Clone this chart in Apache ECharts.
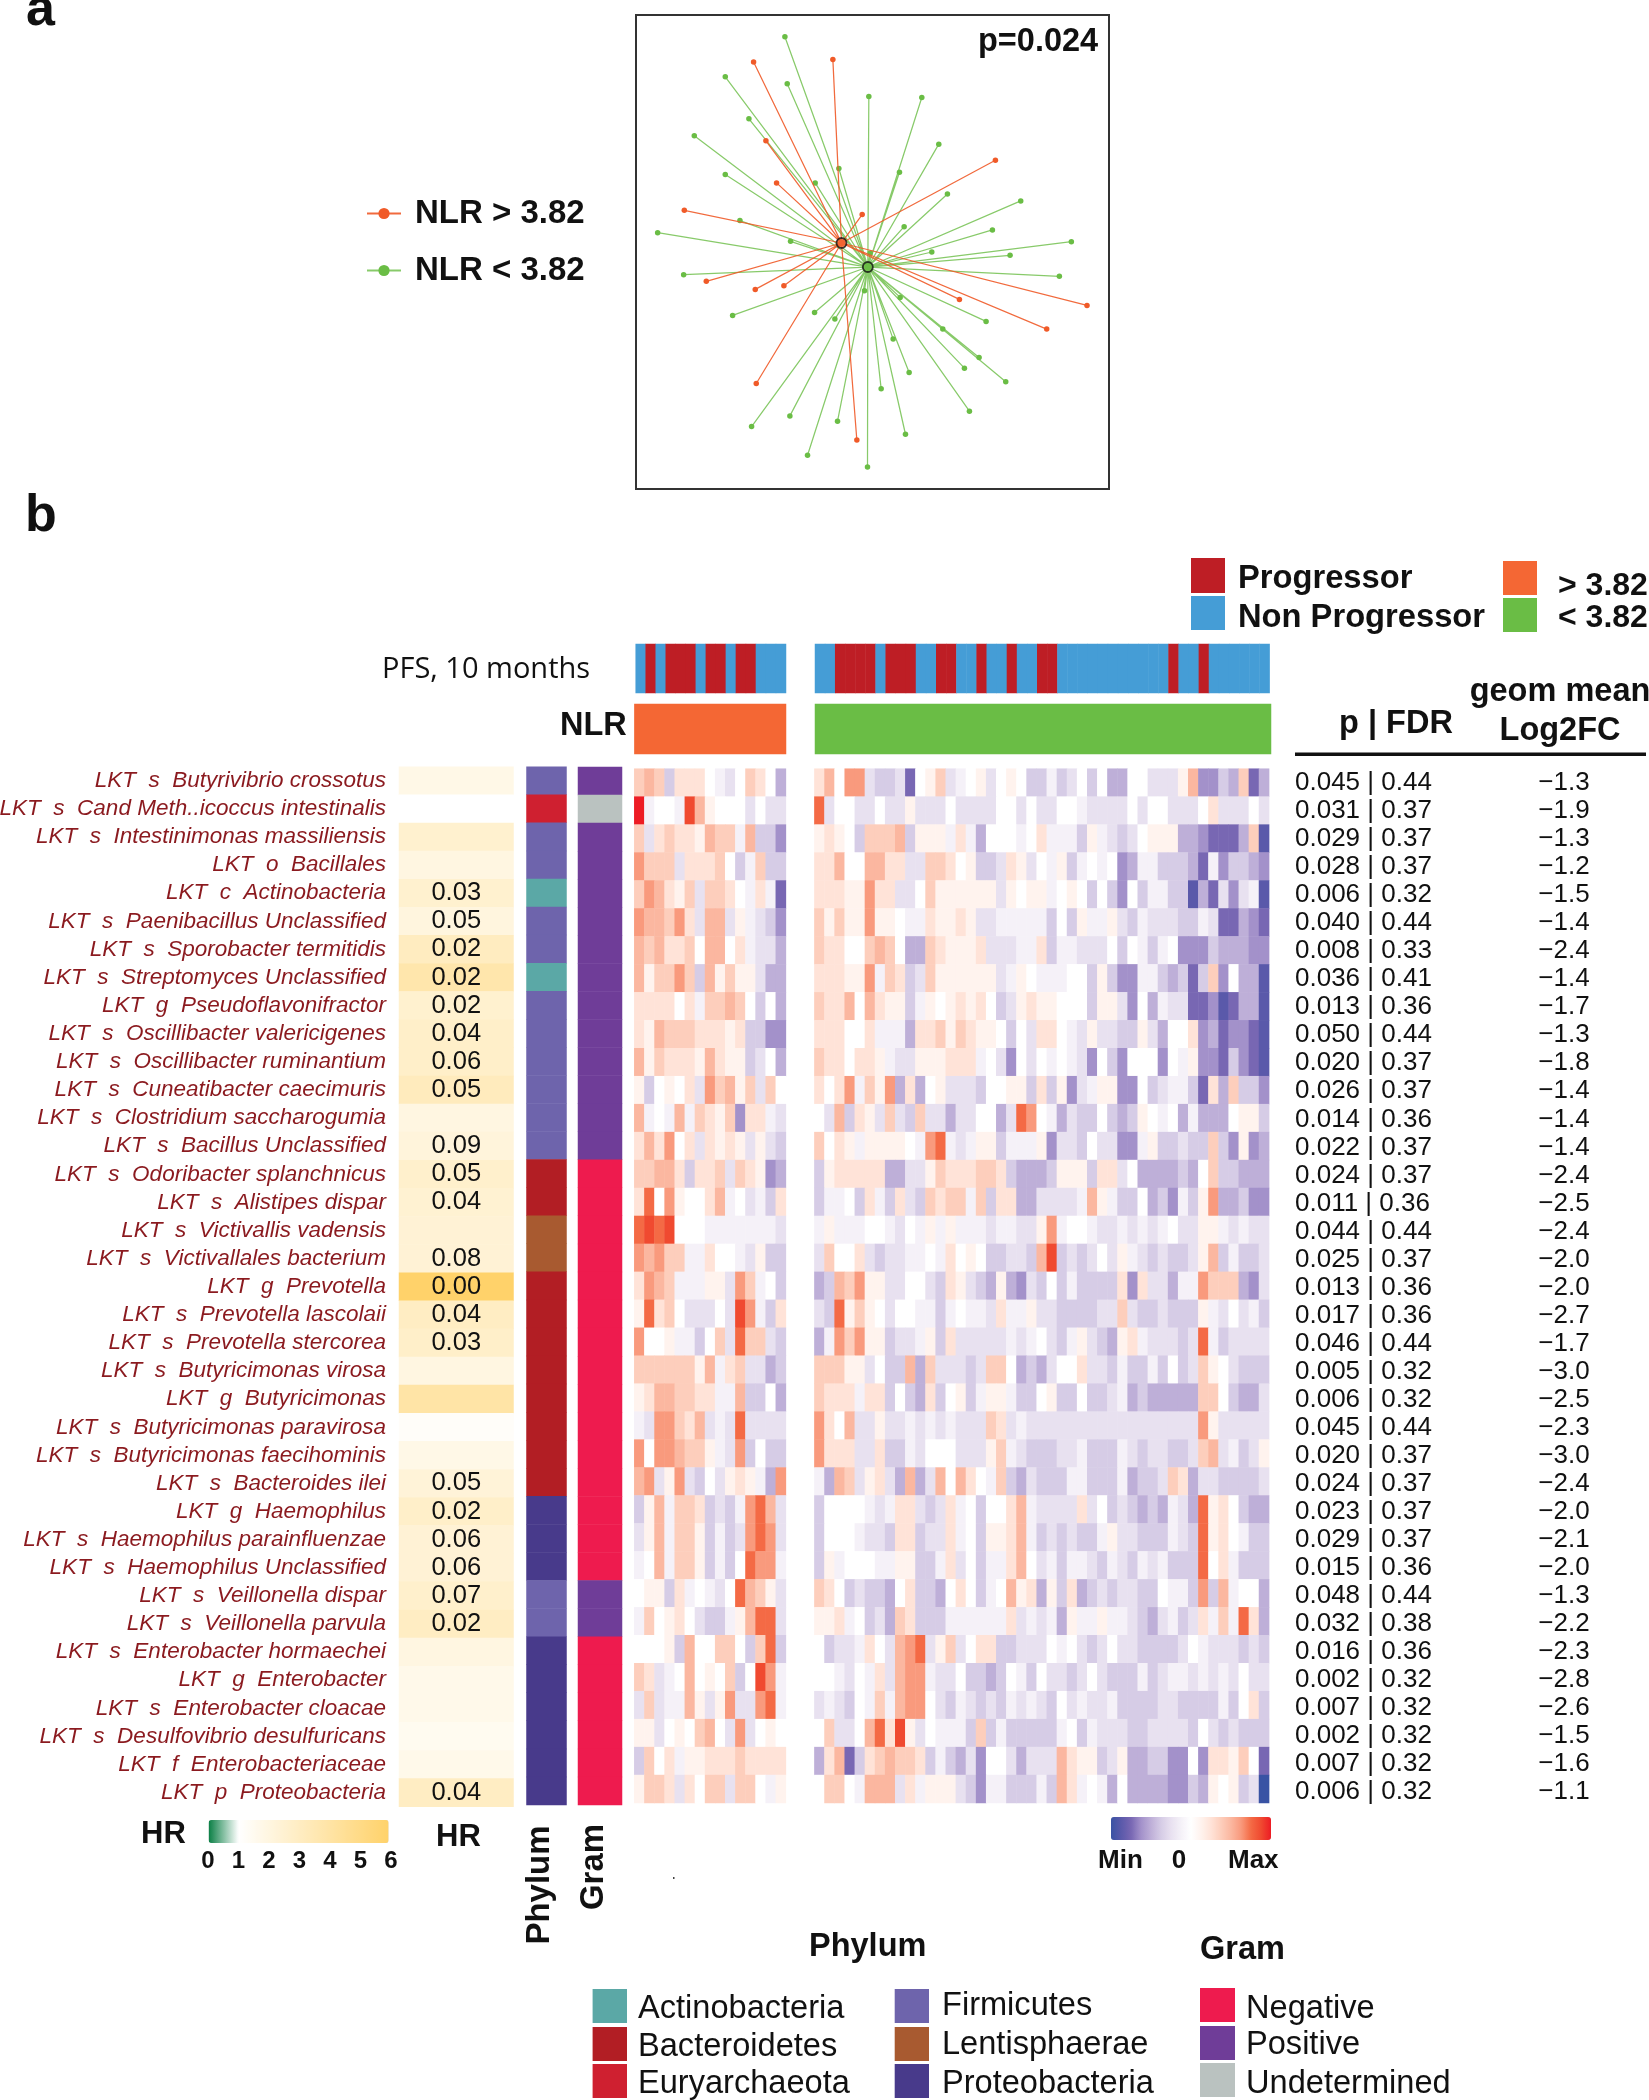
<!DOCTYPE html>
<html><head><meta charset="utf-8">
<style>html,body{margin:0;padding:0;background:#fff}#c{width:1649px;height:2100px}</style>
<script src="https://cdn.jsdelivr.net/npm/echarts@6/dist/echarts.min.js"></script>
</head><body><div id="c"></div>
<script>
// ---------- panel a: ordination rays (units: arbitrary ordination axes 0..142) ----------
const centroidLow = [69.6, 66.5];
const centroidHigh = [61.7, 73.7];
const pointsLow = [[44.7,135.5],[26.8,123.5],[45.4,121.4],[33.9,110.9],[17.5,105.8],[26.8,94.2],[53.8,91.7],[60.9,96],[69.9,117.6],[85.8,117.3],[79.1,94.9],[90.9,103.3],[93.5,88.4],[80.5,78.6],[115.5,86.3],[107,77.6],[88.8,71],[130.7,74.1],[112.3,70],[127.1,63.7],[105.1,50.2],[79.3,57.4],[92.1,47.9],[103,39.4],[111,32.1],[98.6,36.2],[100.1,23.3],[82,34.9],[77.2,44.9],[73.6,30],[80.9,16.4],[69.5,6.6],[68.6,59.4],[60.5,20.3],[51.5,10.1],[46.2,21.9],[34.7,18.7],[59.7,50.9],[53.6,52.9],[29,52],[14.3,64.2],[6.5,76.8],[31.2,80.4],[46.4,74.2],[70.3,70.7]];
const pointsHigh = [[35.3,127.9],[59.1,128.7],[39,104.3],[42.2,91.7],[14.5,83.5],[67.9,82.2],[107.9,98.5],[97.1,56.8],[123.3,47.9],[135.4,55],[66.3,14.7],[36.1,31.6],[21.1,62.2],[35.8,59.8],[44.4,60.9]];
const pValue = 'p=0.024';

// ---------- panel b: rows ----------
const rowLabels = ['LKT  s  Butyrivibrio crossotus','LKT  s  Cand Meth..icoccus intestinalis','LKT  s  Intestinimonas massiliensis','LKT  o  Bacillales','LKT  c  Actinobacteria','LKT  s  Paenibacillus Unclassified','LKT  s  Sporobacter termitidis','LKT  s  Streptomyces Unclassified','LKT  g  Pseudoflavonifractor','LKT  s  Oscillibacter valericigenes','LKT  s  Oscillibacter ruminantium','LKT  s  Cuneatibacter caecimuris','LKT  s  Clostridium saccharogumia','LKT  s  Bacillus Unclassified','LKT  s  Odoribacter splanchnicus','LKT  s  Alistipes dispar','LKT  s  Victivallis vadensis','LKT  s  Victivallales bacterium','LKT  g  Prevotella','LKT  s  Prevotella lascolaii','LKT  s  Prevotella stercorea','LKT  s  Butyricimonas virosa','LKT  g  Butyricimonas','LKT  s  Butyricimonas paravirosa','LKT  s  Butyricimonas faecihominis','LKT  s  Bacteroides ilei','LKT  g  Haemophilus','LKT  s  Haemophilus parainfluenzae','LKT  s  Haemophilus Unclassified','LKT  s  Veillonella dispar','LKT  s  Veillonella parvula','LKT  s  Enterobacter hormaechei','LKT  g  Enterobacter','LKT  s  Enterobacter cloacae','LKT  s  Desulfovibrio desulfuricans','LKT  f  Enterobacteriaceae','LKT  p  Proteobacteria'];
const hrValues = [1.8,1,2.6,2,2.6,2.1,3.1,3.8,2.6,2.8,2.8,3.2,2,2.2,2.7,2.5,2.4,2.4,6,3,2.8,2,4,1.2,1.8,2.3,2.8,2.4,2.4,2.7,3,2,1.7,1.7,1.5,1.7,3];
const hrP = ['','','','','0.03','0.05','0.02','0.02','0.02','0.04','0.06','0.05','','0.09','0.05','0.04','','0.08','0.00','0.04','0.03','','','','','0.05','0.02','0.06','0.06','0.07','0.02','','','','','','0.04'];
const phylumNames = ['Actinobacteria','Bacteroidetes','Euryarchaeota','Firmicutes','Lentisphaerae','Proteobacteria'];
const phylumColors = ['#5BA8A6','#B21E24','#CF2030','#6E64AC','#A85A30','#483A8B'];
const phylumByRow = [3,2,3,3,0,3,3,0,3,3,3,3,3,3,1,1,4,4,1,1,1,1,1,1,1,1,5,5,5,3,3,5,5,5,5,5,5];
const gramNames = ['Negative','Positive','Undetermined'];
const gramColors = ['#EE1B4E','#6F3D98','#BAC2C0'];
const gramByRow = [1,2,1,1,1,1,1,1,1,1,1,1,1,1,0,0,0,0,0,0,0,0,0,0,0,0,0,0,0,1,1,0,0,0,0,0,0];
const pFdr = ['0.045 | 0.44','0.031 | 0.37','0.029 | 0.37','0.028 | 0.37','0.006 | 0.32','0.040 | 0.44','0.008 | 0.33','0.036 | 0.41','0.013 | 0.36','0.050 | 0.44','0.020 | 0.37','0.026 | 0.37','0.014 | 0.36','0.022 | 0.37','0.024 | 0.37','0.011 | 0.36','0.044 | 0.44','0.025 | 0.37','0.013 | 0.36','0.017 | 0.36','0.046 | 0.44','0.005 | 0.32','0.006 | 0.32','0.045 | 0.44','0.020 | 0.37','0.024 | 0.37','0.023 | 0.37','0.029 | 0.37','0.015 | 0.36','0.048 | 0.44','0.032 | 0.38','0.016 | 0.36','0.002 | 0.32','0.007 | 0.32','0.002 | 0.32','0.007 | 0.32','0.006 | 0.32'];
const log2fc = ['−1.3','−1.9','−1.3','−1.2','−1.5','−1.4','−2.4','−1.4','−1.7','−1.3','−1.8','−1.4','−1.4','−1.4','−2.4','−2.5','−2.4','−2.0','−2.0','−2.7','−1.7','−3.0','−2.5','−2.3','−3.0','−2.4','−2.0','−2.1','−2.0','−1.3','−2.2','−2.3','−2.8','−2.6','−1.5','−1.6','−1.1'];
// 0 = Non Progressor, 1 = Progressor
const pfsLeft = [0,1,0,1,1,1,0,1,1,0,1,1,0,0,0];
const pfsRight = [0,0,1,1,1,1,0,1,1,1,0,0,1,1,0,0,1,0,0,1,0,0,1,1,0,0,0,0,0,0,0,0,0,0,0,1,0,0,1,0,0,0,0,0,0];
const pfsNames = ['Non Progressor','Progressor'];
const pfsColors = ['#459DD6','#BE1E25'];
const nlrColors = ['#F46734','#6ABD45'];
const nlrNames = ['> 3.82','< 3.82'];
const hrTicks = [0,1,2,3,4,5,6];

// expression levels on a -8..8 colour scale
const heatLeft = [
[3,4,3,-3,2,2,2,0,-1,-2,0,3,2,0,-4],
[8,-1,0,0,-1,7,4,1,0,0,0,-2,0,-2,-2],
[3,-2,2,3,2,2,1,4,3,3,-1,4,-3,-3,-5],
[5,3,3,3,-2,2,2,2,3,0,-3,-1,3,-3,-3],
[3,5,4,2,1,3,-2,3,3,2,0,-1,2,-1,-6],
[5,4,4,3,5,2,-2,4,4,-2,1,-1,-2,-3,-5],
[4,3,4,2,2,3,0,4,4,0,2,-1,-2,-2,-4],
[4,1,3,3,5,3,-3,4,1,3,1,1,-2,-4,-4],
[2,2,2,2,0,2,-1,3,3,4,3,0,-3,0,-4],
[2,1,4,3,3,3,2,2,2,1,2,-3,-3,-5,-5],
[4,1,3,2,2,2,1,4,2,1,1,-3,-2,0,-4],
[1,-3,0,1,0,2,-2,5,3,4,1,3,-2,3,0],
[4,-1,0,-1,4,-1,3,2,1,3,-5,2,2,-1,-2],
[2,4,2,5,0,2,-2,2,1,2,1,-2,1,-2,-3],
[3,3,4,4,2,-3,2,2,3,-2,3,2,1,-5,-4],
[2,6,0,5,1,0,0,2,4,-1,0,-2,-1,-3,2],
[6,7,6,7,0,0,0,-1,-1,-1,-1,-1,-1,-1,-2],
[5,4,5,3,3,-1,-1,2,0,0,-1,-2,1,-3,-3],
[2,5,4,3,-1,-1,-1,1,1,-2,5,3,-1,0,-3],
[1,6,2,3,0,-2,-2,-2,0,-2,7,5,-1,-3,2],
[5,0,0,1,-1,-1,-3,0,3,-2,6,3,3,-2,-3],
[3,3,3,3,3,3,1,4,-1,2,3,-2,-2,-4,-3],
[1,2,4,4,3,3,2,2,-1,-1,4,-3,-3,0,-4],
[-1,-2,5,5,3,2,4,-2,-1,-2,6,-2,-2,-2,-2],
[5,0,5,5,4,3,3,1,-1,-2,5,-3,0,-3,-3],
[4,5,-2,1,5,-2,-3,0,-2,1,2,1,-1,-4,5],
[-3,1,4,-1,3,3,2,-3,-2,-3,-1,5,6,4,-2],
[-2,1,4,-1,3,3,1,-3,-1,-3,-2,5,6,5,-2],
[-1,0,4,-1,3,3,1,-3,-1,-3,0,6,5,5,-1],
[0,1,1,-3,2,-1,0,-1,-2,0,6,4,3,1,-2],
[-1,3,0,1,2,0,-2,-3,-3,-1,1,4,6,6,-2],
[0,0,0,1,-3,4,0,0,3,3,0,-3,3,6,-3],
[3,2,-2,-1,0,4,0,1,0,3,-3,0,7,5,-1],
[-2,3,-2,-1,-1,4,1,-2,1,5,-2,-2,5,6,-1],
[1,1,-2,0,1,0,3,4,0,-2,5,-2,0,1,0],
[-3,3,0,2,-1,1,1,2,2,2,3,2,2,2,2],
[1,3,3,2,-2,2,0,3,3,-2,3,3,0,-1,1]
];
const heatRight = [
[2,4,0,5,5,-2,-3,-3,-2,-6,0,1,3,-2,-1,0,1,-2,0,1,0,-3,-3,-1,-3,-2,0,-3,0,-4,-4,0,0,-2,-2,-2,1,4,-5,-5,-3,-4,3,-6,-4],
[6,-2,0,0,-2,-2,0,-2,-2,1,-2,-2,-2,0,-2,-2,-2,-2,0,0,-2,0,-2,-2,0,0,-1,-2,-2,-2,-2,0,-2,0,0,-2,-2,-2,0,2,-2,-2,-2,0,-2],
[1,2,1,0,-3,3,3,3,4,-3,1,1,1,-1,2,-1,-4,0,0,0,-1,0,2,-1,-1,-1,-3,1,-1,-2,-3,-2,0,1,1,1,-4,-4,-5,-6,-6,-6,-4,3,-7],
[2,2,4,0,0,4,4,2,2,-2,-2,3,3,2,0,1,-3,-3,-2,2,1,-2,0,-1,1,-3,-1,0,-1,0,-5,-4,-1,-1,-3,-3,-3,-4,-6,-1,-5,-3,-3,-4,-5],
[2,2,2,1,1,5,2,2,-2,-2,0,3,1,1,1,1,1,1,-2,1,0,1,1,-1,0,1,0,-3,0,-3,-5,0,-3,-1,-1,-3,-3,-7,-4,-6,-2,-5,-2,-1,-7],
[3,1,3,1,1,5,1,1,0,-1,-1,2,1,1,2,1,-2,-2,-1,-1,-1,-1,-1,-3,0,-3,1,-1,-1,1,-2,-3,-1,-2,-2,-2,-3,-3,-1,-2,-6,-6,-4,-5,-6],
[3,2,2,0,0,3,4,3,0,-4,-4,3,2,1,1,1,2,-2,-2,-2,-1,-1,2,-3,-1,-1,-2,-2,-2,0,-3,0,-1,-3,-1,0,-5,-5,-5,-3,-4,-4,-4,-5,-5],
[2,2,2,1,1,5,-1,3,2,-3,-2,3,1,1,1,1,1,1,-2,-1,1,0,-1,-1,-1,0,0,-3,1,-3,-5,-5,-1,-1,-3,-4,-3,-6,-3,3,-5,0,-4,-4,-7],
[3,2,2,4,0,4,2,1,1,-3,-1,1,0,1,2,1,2,0,-3,-2,1,2,1,1,0,0,0,-3,1,1,-2,-5,0,-4,-1,-2,-2,-6,-6,-5,-7,-6,-4,-4,-7],
[2,2,2,0,0,2,-1,-1,-1,-4,2,2,3,1,3,2,1,1,0,-3,0,-2,2,2,0,-1,-2,1,-2,-2,-3,-3,1,-2,-4,0,0,2,-5,-4,-6,-5,-5,-6,-7],
[3,2,2,0,2,2,1,-1,-2,-2,1,1,1,2,2,2,-1,0,-2,-5,0,-2,0,-1,0,-1,-2,-5,0,-3,-5,0,0,0,-5,0,-1,1,-5,-5,-6,-3,-5,-6,-7],
[2,0,2,5,-1,3,1,5,-4,2,-4,0,1,-2,-2,-2,-3,0,0,1,1,-3,2,-3,1,-5,-2,-1,1,1,-5,-5,0,-3,-2,-1,-1,-3,-6,2,-4,3,-3,-3,-5],
[0,-2,4,-3,2,1,-2,3,-2,-3,3,-2,-2,-4,-2,-2,0,0,-4,-2,6,5,0,-1,-4,-2,-3,-3,0,-3,-4,-3,1,0,-1,0,-4,-1,-4,-4,-4,0,1,1,-3],
[3,0,2,1,-1,1,1,1,1,0,-1,5,6,-1,-2,-1,1,1,-3,-1,-1,-1,1,-5,-2,-2,-3,0,-2,-2,-5,-5,-1,1,-3,-3,-2,-3,-3,3,-3,-5,1,-5,-4],
[-3,1,2,2,2,2,2,-4,-4,-2,-2,1,3,2,2,2,3,3,2,-3,-4,-4,-4,-3,1,1,1,-3,2,2,-2,0,-4,-4,-4,-4,-3,-4,0,3,-3,-3,-4,-4,-4],
[-3,-1,-1,0,-3,2,-1,-3,2,-2,-3,3,2,3,3,-1,3,-3,2,2,-4,-4,-2,-2,-2,-2,-1,4,1,-1,-3,-3,0,-4,-3,-5,-1,-3,1,5,-4,-4,-3,-5,-5],
[-1,1,-1,-1,-1,0,0,-1,-2,0,-1,1,-1,1,-1,-1,-1,-2,-1,-1,-2,-2,1,5,-1,0,0,-1,-2,-2,-1,-2,-1,-2,-1,0,-2,-2,1,1,-1,-2,-1,-2,-2],
[-2,3,0,0,2,-2,-3,-2,-2,-1,-1,0,-1,2,0,1,0,-3,-3,-2,-2,-3,4,7,-3,-2,-3,-2,0,-2,1,-1,-2,-3,-2,-3,-3,-2,1,4,-3,-1,-3,-3,-2],
[-4,-3,4,3,5,1,1,-2,-2,0,0,-2,-3,2,1,-2,-3,-4,1,-4,-5,-2,-3,0,-3,-1,-3,-3,-3,-3,2,-5,2,-2,-2,-4,-1,-1,5,3,3,3,-4,-5,-2],
[-2,-3,6,1,3,1,0,-2,0,0,-1,-1,-3,-1,0,-1,-1,-2,2,-1,-1,1,-2,-2,-3,-3,-3,-3,-2,-2,3,-2,-3,-3,-2,-3,-3,-3,1,-1,-2,0,-2,-1,-3],
[-4,-1,5,3,5,1,1,-3,-2,-2,-1,1,-3,2,-2,-2,-2,-2,-2,-1,-2,-1,0,-2,-3,-1,1,-2,-3,-4,1,2,-1,-2,-2,-2,-3,-2,6,-1,-3,-2,-2,-2,-2],
[3,3,3,1,1,-2,0,-3,-3,4,-4,3,-2,-2,-2,-3,-2,3,3,0,-4,-3,-4,-2,0,0,2,-2,-2,-3,-1,-3,-3,-1,-3,0,-3,-2,3,1,0,-2,-3,-3,-3],
[3,2,2,2,-1,2,2,-3,0,-3,-4,2,-3,0,1,-3,-1,1,1,-1,-3,-3,0,1,-3,-3,0,-3,-3,-2,-1,-4,-3,-4,-4,-4,-4,-4,3,3,0,-3,-4,-4,-2],
[5,2,0,4,-2,-2,1,-2,-2,-1,-2,-1,-2,-1,-2,-2,-2,3,2,-2,-1,-2,-2,-2,-2,-2,-2,-2,-2,-2,-2,-2,-2,-2,-2,-2,-2,-2,5,1,-2,-2,-2,-2,-2],
[5,2,2,2,-2,-2,2,-3,-3,-1,-2,0,0,0,-2,-2,-2,1,3,-1,-2,-3,-3,-3,-2,-2,-1,-3,-3,-3,-1,-2,-3,-2,-2,-3,-3,-2,3,4,-2,-1,-3,-2,1],
[-1,-4,4,3,-2,1,2,-2,-4,4,-4,-2,4,0,4,2,0,-1,3,-3,-4,-2,-3,-3,-3,-1,-1,-3,-3,-3,-1,-4,-3,-3,-2,3,2,-4,-2,-2,-3,-3,-3,-3,-2],
[-3,0,0,0,0,-1,-2,-1,2,2,-2,-3,-2,2,-1,0,-3,0,0,2,4,-1,-2,-2,-2,-2,2,-2,0,-3,-2,-3,-4,-3,-4,-1,-2,-4,6,1,2,0,-3,-4,-4],
[-3,0,0,0,-1,-2,-2,-3,2,2,-3,-2,-2,2,-1,0,-3,1,1,2,4,-1,-3,-2,-3,-2,-3,-3,-1,1,-2,-2,-3,-3,-3,-1,-2,-3,6,1,2,0,-1,-3,-3],
[-3,1,-1,0,0,0,-1,-1,1,1,-3,-3,-1,2,-2,0,-3,-1,-1,2,4,0,-2,-1,-3,-1,-1,-2,-3,-1,-2,-3,-1,-2,-1,-3,-3,-3,6,0,2,-1,-3,-3,-3],
[3,2,0,-3,-2,-3,-3,-4,0,2,-3,-3,-4,0,2,0,-3,-1,0,4,1,2,-4,1,-3,2,-4,-3,-2,-3,-2,-2,-3,-3,0,-1,-1,-3,5,-3,4,-1,0,0,-4],
[1,1,2,-1,0,-3,-2,-4,3,2,-3,-3,-3,-1,-1,-1,-1,-1,-1,2,-2,-1,-2,-1,-4,1,-1,-1,1,-1,-1,-2,-3,-4,-2,-1,-3,-2,2,-1,3,-1,6,2,-4],
[0,-3,-2,-2,-1,2,0,-2,4,5,6,-2,1,3,-2,0,2,2,-3,-3,-2,-2,-2,0,-1,0,-2,-3,-2,0,-2,-2,-3,-3,-3,-3,-2,0,-1,-2,-2,-2,-3,-2,-3],
[0,0,-1,-2,0,-1,2,-2,4,5,5,-1,-2,-2,0,-3,-3,-4,-3,0,-1,-3,0,-2,-2,-3,-2,0,-2,-3,-3,-3,-1,-3,-2,-1,-1,-2,-1,-2,-1,-2,0,-2,-2],
[-2,-1,-2,-3,0,-1,3,-1,4,5,5,0,-2,-3,-1,-2,-3,-2,-3,-1,-2,-1,-2,-3,0,-2,-1,-2,-2,-1,-3,-3,-3,-3,-2,-2,-3,-3,-3,-3,-1,-3,0,2,-3],
[0,3,-2,-2,0,4,6,2,7,1,-2,0,-1,-1,-1,-3,3,-3,-1,-3,-3,-3,-3,-3,-1,0,-3,-1,-2,-2,-2,-3,-3,-2,-2,-2,-2,-3,0,-2,-3,-2,-3,-3,-3],
[-4,2,4,-6,-3,2,3,4,3,3,2,-3,-1,-3,-4,-2,-5,0,0,-2,-4,-2,-2,-2,4,2,1,1,-3,-2,1,-4,-4,-3,-3,-5,-5,0,-5,2,2,1,3,0,-6],
[0,3,3,0,-1,4,4,4,-2,2,-1,1,1,1,-2,-3,-5,-1,-1,-3,-3,-3,-1,-3,4,2,-1,0,-1,-4,0,-4,-4,-4,-4,-5,-5,-3,-4,1,0,1,-3,-2,-8]
];
const heatColors = ['#3953a4','#5a59aa','#7867b3','#a391ca','#beafd8','#d6cce6','#e8e1f0','#f5f1f8','#ffffff','#fff3ee','#ffe3d8','#fdcebc','#fbb7a0','#f99a7d','#f46a45','#f04a30','#ed1c24'];
const hrColors = ['#0a7f45','#ffffff','#FFF6E1','#FFEDC3','#FFE4A6','#FFDB88','#FFD26A'];

// ---------- helpers ----------
const SANS = '"Liberation Sans", Arial, sans-serif';
const rowIdx = rowLabels.map((_, i) => i);
const grids = [
  {left:636, top:15, width:473, height:474, show:true, borderColor:'#333', borderWidth:2, backgroundColor:'#fff'},
  {left:399, top:766.7, width:114.5, height:1040},
  {left:526.5, top:766.7, width:40, height:1038.3},
  {left:578, top:767, width:44, height:1038},
  {left:634.3, top:768.7, width:151.6, height:1034.3},
  {left:814.4, top:768.7, width:454.7, height:1034.3},
  {left:635.7, top:644, width:150.3, height:49},
  {left:815, top:644, width:454.6, height:49},
  {left:634.4, top:704, width:151.6, height:50},
  {left:815, top:704, width:456, height:50},
  {left:1268, top:769, width:1, height:1037}
].map(o => Object.assign({outerBoundsMode:'none'}, o));
const hiddenX = (g, n) => ({gridIndex:g, type:'category', show:false, data:Array.from({length:n},(_, i)=>i)});
const hiddenY = (g, data) => ({gridIndex:g, type:'category', show:false, inverse:true, data:data});
const xAxes = [
  {gridIndex:0, type:'value', show:false, min:0, max:142},
  hiddenX(1,1), hiddenX(2,1), hiddenX(3,1), hiddenX(4,15), hiddenX(5,45),
  hiddenX(6,15), hiddenX(7,45), hiddenX(8,1), hiddenX(9,1), hiddenX(10,1)
];
const yAxes = [
  {gridIndex:0, type:'value', show:false, min:0, max:142},
  {gridIndex:1, type:'category', inverse:true, data:rowLabels,
   axisLine:{show:false}, axisTick:{show:false},
   axisLabel:{interval:0, margin:13, fontFamily:SANS, fontStyle:'italic', fontSize:22.5, color:'#8B1A1F'}},
  hiddenY(2,rowIdx), hiddenY(3,rowIdx), hiddenY(4,rowIdx), hiddenY(5,rowIdx),
  hiddenY(6,[0]), hiddenY(7,[0]), hiddenY(8,[0]), hiddenY(9,[0]),
  {gridIndex:10, type:'category', inverse:true, position:'right', data:rowLabels,
   axisLine:{show:false}, axisTick:{show:false},
   axisLabel:{interval:0, margin:26, align:'left',
     formatter:(v,i)=>`{p|${pFdr[i]}}{f|${log2fc[i]}}`,
     rich:{p:{width:219, fontFamily:SANS, fontSize:26, color:'#111', align:'left'},
           f:{width:100, fontFamily:SANS, fontSize:26, color:'#111', align:'center'}}}}
];
const rays = (pts, c) => { const d=[]; pts.forEach(p=>{d.push(c,p,['-','-']);}); return d; };
const heatData = m => { const d=[]; m.forEach((r,y)=>r.forEach((v,x)=>d.push([x,y,v]))); return d; };
const cell = {borderWidth:0};
const heatSeries = (g,data,extra) => Object.assign({type:'heatmap', xAxisIndex:g, yAxisIndex:g, data:data, itemStyle:cell, progressive:0, emphasis:{disabled:true}, silent:true}, extra||{});

const series = [
  {name:'NLR < 3.82', type:'line', xAxisIndex:0, yAxisIndex:0, data:rays(pointsLow,centroidLow), connectNulls:false, symbol:'circle', symbolSize:5.5, showSymbol:true, lineStyle:{color:nlrColors[1], width:1.25, opacity:.8}, itemStyle:{color:nlrColors[1]}, silent:true, z:3},
  {name:'NLR > 3.82', type:'line', xAxisIndex:0, yAxisIndex:0, data:rays(pointsHigh,centroidHigh), connectNulls:false, symbol:'circle', symbolSize:5.5, showSymbol:true, lineStyle:{color:'#F05A28', width:1.25, opacity:.9}, itemStyle:{color:'#F05A28'}, silent:true, z:4},
  {type:'scatter', name:'low centroid', xAxisIndex:0, yAxisIndex:0, data:[centroidLow], symbolSize:10, itemStyle:{color:nlrColors[1], borderColor:'#111', borderWidth:1.8}, silent:true, z:6},
  {type:'scatter', name:'high centroid', xAxisIndex:0, yAxisIndex:0, data:[centroidHigh], symbolSize:10, itemStyle:{color:nlrColors[0], borderColor:'#111', borderWidth:1.8}, silent:true, z:6},
  heatSeries(1, hrValues.map((v,i)=>[0,i,v]), {name:'HR', label:{show:true, formatter:p=>hrP[p.dataIndex], fontFamily:SANS, fontSize:25.5, color:'#111'}}),
  heatSeries(2, phylumByRow.map((v,i)=>[0,i,v]), {name:'Phylum'}),
  heatSeries(3, gramByRow.map((v,i)=>[0,i,v]), {name:'Gram'}),
  heatSeries(4, heatData(heatLeft), {name:'NLR high'}),
  heatSeries(5, heatData(heatRight), {name:'NLR low'}),
  heatSeries(6, pfsLeft.map((v,i)=>[i,0,v]), {name:'PFS high'}),
  heatSeries(7, pfsRight.map((v,i)=>[i,0,v]), {name:'PFS low'}),
  heatSeries(8, [[0,0,0]], {name:'NLR bar high'}),
  heatSeries(9, [[0,0,1]], {name:'NLR bar low'})
];
const pieces = cs => cs.map((c,i)=>({value:i, color:c}));
const visualMaps = [
  {type:'continuous', seriesIndex:[4], min:0, max:6, dimension:2, orient:'horizontal', left:208.6, top:1820, itemWidth:23, itemHeight:180, padding:0, calculable:false, realtime:false, text:null, showLabel:false, inRange:{color:hrColors}, textStyle:{fontSize:0}},
  {type:'continuous', seriesIndex:[7,8], min:-8, max:8, dimension:2, orient:'horizontal', left:1111, top:1817, itemWidth:23, itemHeight:160, padding:0, calculable:false, realtime:false, text:null, inRange:{color:heatColors}, textStyle:{fontSize:0}},
  {type:'piecewise', show:false, seriesIndex:[5], dimension:2, pieces:pieces(phylumColors)},
  {type:'piecewise', show:false, seriesIndex:[6], dimension:2, pieces:pieces(gramColors)},
  {type:'piecewise', show:false, seriesIndex:[9,10], dimension:2, pieces:pieces(pfsColors)},
  {type:'piecewise', show:false, seriesIndex:[11,12], dimension:2, pieces:pieces(nlrColors)}
];

// ---------- annotation text and legend keys ----------
const txt = (text,x,y,size,opt) => { opt=opt||{}; return {type:'text', x:x, y:y, rotation:opt.rotation||0, silent:true, z:20, style:{text:text, font:`${opt.weight||'normal'} ${size}px ${opt.family||SANS}`, fill:opt.fill||'#111', textAlign:opt.align||'left', textVerticalAlign:'middle', verticalAlign:'middle'}}; };
const bold = {weight:'bold'};
const boldC = {weight:'bold', align:'center'};
const rect = (x,y,w,h,fill) => ({type:'rect', silent:true, z:20, shape:{x:x,y:y,width:w,height:h}, style:{fill:fill}});
const g = [];
g.push(txt('a',26,11,52,bold), txt('b',25,517,52,bold));
g.push(txt(pValue,978,42,32.5,bold));
g.push(rect(1191,558,34,35,pfsColors[1]), rect(1191,596,34,34,pfsColors[0]));
g.push(txt(pfsNames[1],1238,579,32.7,bold), txt(pfsNames[0],1238,618,32.7,bold));
g.push(rect(1503,561,34,34,nlrColors[0]), rect(1503,598,34,34,nlrColors[1]));
g.push(txt(nlrNames[0],1558,586.5,32,bold), txt(nlrNames[1],1558,618,32,bold));
g.push(txt('PFS, 10 months',382,670,29,{family:'"Open Sans", sans-serif'}));
g.push(txt('NLR',560,726,32.5,bold));
g.push(txt('p | FDR',1396,724,32.5,boldC));
g.push(txt('geom mean',1560,692,32.5,boldC));
g.push(txt('Log2FC',1560,731,32.5,boldC));
g.push(rect(1295,752.5,351,3.5,'#111'));
g.push(txt('HR',141,1834,31,bold), txt('HR',436,1837,31,bold));
hrTicks.forEach((t,i)=>g.push(txt(String(t),208+i*30.5,1861,24,boldC)));
g.push(txt('Phylum',540,1885,33,{weight:'bold',align:'center',rotation:Math.PI/2}));
g.push(txt('Gram',594,1867,33,{weight:'bold',align:'center',rotation:Math.PI/2}));
g.push(txt('Min',1098,1861,26,bold), txt('0',1179,1861,26,boldC), txt('Max',1228,1861,26,bold));
g.push(rect(673,1877,1.5,2,'#444'));
g.push(txt('Phylum',809,1947,32.5,bold), txt('Gram',1200,1950,32.5,bold));
const legendY=[1989,2027,2064];
const textY=[[2009.5,2047.5,2084.5],[2006.5,2045.5,2084.5],[2009.5,2045.5,2084.5]];
[0,1,2].forEach(i=>{
  g.push(rect(592.6,legendY[i],34.4,34,phylumColors[i]));
  g.push(txt(phylumNames[i],638,textY[0][i],32.6));
  g.push(rect(894.7,legendY[i],34.3,34,phylumColors[i+3]));
  g.push(txt(phylumNames[i+3],942,textY[1][i],32.6));
  g.push(rect(1200,legendY[i]-1,35,34,gramColors[i]));
  g.push(txt(gramNames[i],1246,textY[2][i],32.6));
});

const chart = echarts.init(document.getElementById('c'), null, {renderer:'canvas', width:1649, height:2100});
chart.setOption({
  animation:false,
  backgroundColor:'#fff',
  tooltip:{show:false},
  legend:{data:['NLR > 3.82','NLR < 3.82'], orient:'vertical', left:361, top:192, itemWidth:34, itemHeight:14, itemGap:24, selectedMode:false, textStyle:{fontFamily:SANS, fontWeight:'bold', fontSize:33, color:'#111', padding:[0,0,0,9]}},
  grid:grids, xAxis:xAxes, yAxis:yAxes, visualMap:visualMaps, series:series, graphic:{elements:g}
});
</script></body></html>
